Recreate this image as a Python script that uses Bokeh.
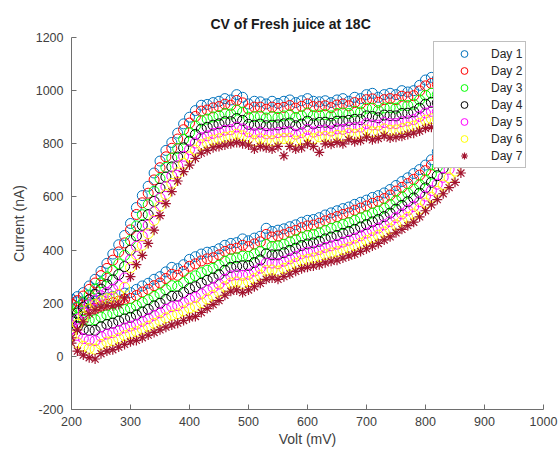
from bokeh.plotting import figure
from bokeh.models import Range1d, FixedTicker, Legend, LegendItem, Title
from bokeh.embed import file_html
from bokeh.resources import INLINE

# Forward scan (lower branch) potentials, mV
v_fwd = [200, 210, 220, 230, 240, 250, 260, 270, 280, 290, 300, 310, 320, 330, 340,
         350, 360, 370, 380, 390, 400, 410, 420, 430, 440, 450, 460, 470, 480, 490,
         500, 510, 520, 530, 540, 550, 560, 570, 580, 590, 600, 610, 620, 630, 640,
         650, 660, 670, 680, 690, 700, 710, 720, 730, 740, 750, 760, 770, 780, 790,
         800, 810, 820, 830, 840, 850, 860, 870, 880, 890]
# Reverse scan (upper branch) potentials, mV
v_rev = [880, 870, 860, 850, 840, 830, 820, 810, 800, 790, 780, 770, 760, 750, 740,
         730, 720, 710, 700, 690, 680, 670, 660, 650, 640, 630, 620, 610, 600, 590,
         580, 570, 560, 550, 540, 530, 520, 510, 500, 490, 480, 470, 460, 450, 440,
         430, 420, 410, 400, 390, 380, 370, 360, 350, 340, 330, 320, 310, 300, 290,
         280, 270, 260, 250, 240, 230, 220, 210, 200]

# Currents (nA), forward scan
day1_fwd = [215, 205, 198, 202, 207, 213, 220, 226, 232, 238, 240, 252, 265, 275, 290,
            300, 318, 335, 330, 345, 365, 375, 385, 392, 395, 405, 418, 425, 428, 442,
            435, 445, 452, 482, 470, 475, 480, 488, 495, 505, 512, 515, 522, 532, 540,
            548, 556, 562, 572, 580, 588, 598, 605, 615, 628, 643, 658, 672, 688, 703,
            720, 740, 770, 805, 850, 900, 960, 1030, 1100, 1155]
day2_fwd = [195, 183, 175, 177, 181, 189, 196, 202, 208, 215, 218, 229, 242, 252, 266,
            276, 293, 309, 305, 320, 339, 348, 359, 367, 371, 382, 395, 403, 407, 418,
            413, 423, 431, 459, 449, 453, 458, 467, 474, 484, 491, 494, 501, 510, 518,
            526, 534, 540, 550, 558, 566, 576, 583, 594, 607, 622, 636, 650, 666, 682,
            699, 720, 748, 782, 824, 871, 928, 995, 1064, 1120]
day3_fwd = [162, 146, 136, 136, 138, 148, 156, 162, 169, 176, 181, 191, 203, 213, 226,
            236, 251, 266, 264, 278, 295, 303, 315, 324, 331, 343, 358, 367, 371, 377,
            376, 386, 395, 421, 414, 416, 422, 431, 439, 449, 455, 459, 465, 474, 482,
            488, 496, 503, 512, 521, 529, 539, 547, 558, 571, 586, 600, 614, 629, 646,
            665, 686, 712, 743, 781, 822, 874, 937, 1004, 1061]
day4_fwd = [132, 112, 101, 98, 98, 111, 120, 125, 133, 141, 147, 156, 167, 177, 190,
            200, 214, 226, 227, 240, 255, 262, 275, 286, 295, 307, 324, 335, 339, 341,
            342, 353, 363, 386, 382, 382, 390, 399, 407, 417, 423, 427, 433, 442, 449,
            455, 463, 470, 478, 487, 496, 506, 515, 526, 539, 554, 568, 582, 596, 614,
            634, 655, 680, 708, 742, 777, 825, 885, 950, 1007]
day5_fwd = [103, 79, 67, 61, 59, 75, 84, 89, 98, 107, 114, 121, 132, 142, 154,
            164, 177, 187, 191, 202, 215, 222, 235, 248, 259, 272, 290, 303, 307, 305,
            309, 321, 332, 351, 351, 349, 358, 367, 376, 386, 392, 396, 402, 410, 416,
            422, 430, 437, 445, 454, 464, 474, 483, 495, 507, 522, 536, 550, 564, 582,
            603, 624, 648, 674, 704, 733, 776, 833, 896, 954]
day6_fwd = [78, 51, 38, 30, 27, 45, 54, 59, 68, 78, 86, 93, 103, 113, 124,
            134, 145, 155, 160, 171, 182, 188, 202, 216, 229, 243, 262, 276, 280, 274,
            281, 293, 305, 323, 325, 321, 331, 340, 350, 360, 365, 370, 375, 383, 389,
            394, 402, 409, 417, 426, 436, 446, 456, 468, 480, 495, 509, 523, 536, 555,
            577, 599, 621, 645, 672, 697, 736, 789, 851, 910]
day7_fwd = [50, 20, 5, -5, -10, 10, 20, 25, 35, 45, 55, 60, 70, 80, 90,
            100, 110, 118, 125, 135, 145, 150, 165, 180, 195, 210, 230, 245, 250, 240,
            250, 262, 275, 290, 295, 290, 300, 310, 320, 330, 335, 340, 345, 352, 358,
            362, 370, 378, 385, 395, 405, 415, 425, 438, 450, 465, 478, 492, 505, 525,
            548, 570, 590, 612, 635, 655, 690, 740, 800, 860]

# Currents (nA), reverse scan
day1_rev = [1120, 1095, 1080, 1070, 1060, 1055, 1045, 1050, 1040, 1020, 1000, 995, 1000, 985, 990,
            985, 975, 990, 985, 970, 975, 960, 970, 965, 955, 962, 958, 960, 970, 962,
            955, 965, 960, 952, 960, 950, 958, 960, 950, 975, 985, 965, 970, 960, 955,
            948, 945, 925, 900, 875, 840, 805, 775, 735, 690, 640, 605, 560, 500, 455,
            420, 385, 350, 320, 290, 265, 240, 225, 215]
day2_rev = [1094, 1070, 1056, 1046, 1037, 1032, 1023, 1027, 1018, 999, 981, 976, 979, 966, 970,
            966, 956, 969, 966, 951, 955, 943, 950, 946, 936, 943, 940, 940, 950, 941,
            934, 944, 937, 933, 938, 930, 938, 938, 931, 954, 963, 945, 949, 940, 935,
            927, 923, 903, 878, 853, 818, 783, 751, 710, 664, 614, 578, 534, 476, 427,
            393, 362, 331, 304, 276, 252, 227, 210, 198]
day3_rev = [1050, 1028, 1015, 1007, 999, 994, 986, 990, 982, 965, 949, 944, 945, 934, 936,
            935, 925, 934, 934, 919, 922, 914, 916, 914, 905, 910, 908, 906, 916, 905,
            899, 909, 905, 900, 902, 897, 904, 902, 900, 919, 927, 912, 914, 906, 901,
            893, 887, 867, 842, 817, 782, 746, 711, 669, 621, 571, 533, 491, 436, 380,
            348, 323, 299, 277, 253, 231, 205, 185, 169]
day4_rev = [1010, 990, 979, 971, 964, 960, 954, 956, 949, 934, 920, 915, 914, 905, 906,
            908, 898, 903, 905, 891, 892, 888, 885, 885, 877, 881, 880, 875, 885, 874,
            868, 878, 875, 871, 870, 868, 874, 870, 873, 888, 895, 883, 883, 875, 870,
            862, 855, 835, 810, 785, 750, 713, 675, 633, 583, 533, 493, 453, 400, 338,
            308, 288, 270, 253, 233, 213, 185, 163, 143]
day5_rev = [970, 952, 943, 935, 929, 926, 921, 922, 916, 903, 891, 886, 883, 876, 876,
            880, 870, 871, 876, 863, 861, 861, 854, 856, 848, 852, 850, 844, 854, 842,
            836, 846, 845, 842, 838, 838, 844, 838, 845, 856, 863, 853, 851, 844, 839,
            830, 823, 803, 778, 753, 718, 679, 639, 596, 544, 494, 452, 414, 364, 295,
            267, 252, 241, 228, 212, 194, 165, 140, 116]
day6_rev = [937, 921, 912, 906, 901, 897, 893, 894, 889, 877, 867, 862, 857, 852, 851,
            856, 846, 845, 852, 839, 836, 840, 829, 832, 825, 828, 826, 819, 829, 815,
            810, 820, 820, 818, 811, 813, 819, 811, 821, 830, 836, 828, 825, 819, 814,
            804, 796, 776, 751, 726, 691, 651, 609, 565, 512, 462, 418, 382, 334, 260,
            233, 223, 217, 208, 195, 178, 149, 121, 95]
day7_rev = [900, 885, 878, 872, 868, 865, 862, 862, 858, 848, 840, 835, 828, 825, 822,
            830, 820, 815, 825, 812, 808, 815, 800, 805, 798, 800, 768, 790, 800, 785,
            780, 790, 755, 790, 780, 785, 790, 780, 795, 800, 805, 800, 795, 790, 785,
            775, 765, 745, 720, 695, 660, 620, 575, 530, 475, 425, 380, 345, 300, 220,
            195, 190, 190, 185, 175, 160, 130, 100, 70]

labels = ["Day 1", "Day 2", "Day 3", "Day 4", "Day 5", "Day 6", "Day 7"]
colors = ["#0072BD", "#FF0000", "#00FF00", "#000000", "#FF00FF", "#FFFF00", "#A2142F"]
markers = ["circle", "circle", "circle", "circle", "circle", "circle", "asterisk"]
fwd = [day1_fwd, day2_fwd, day3_fwd, day4_fwd, day5_fwd, day6_fwd, day7_fwd]
rev = [day1_rev, day2_rev, day3_rev, day4_rev, day5_rev, day6_rev, day7_rev]

x_ticks = [200, 300, 400, 500, 600, 700, 800, 900, 1000]
y_ticks = [-200, 0, 200, 400, 600, 800, 1000, 1200]

FONT = "Liberation Sans"
TXT = "#404040"
AX = "#6e6e6e"

title = Title(text="CV of Fresh juice at 18C", align="left", offset=139, standoff=12,
              text_font=FONT, text_font_size="14px", text_font_style="bold",
              text_color="#1a1a1a")

p = figure(width=558, height=450, output_backend="svg", toolbar_location=None,
           x_range=Range1d(200, 1000), y_range=Range1d(-200, 1200), title=title,
           min_border_left=71, min_border_right=15, min_border_top=37, min_border_bottom=41)
p.outline_line_color = None
p.background_fill_color = "white"
p.border_fill_color = "white"
p.xgrid.visible = False
p.ygrid.visible = False

for ax, ticks in ((p.xaxis[0], x_ticks), (p.yaxis[0], y_ticks)):
    ax.ticker = FixedTicker(ticks=ticks)
    ax.major_tick_in = 5
    ax.major_tick_out = 0
    ax.minor_tick_line_color = None
    ax.axis_line_color = AX
    ax.major_tick_line_color = AX
    ax.major_label_text_font = FONT
    ax.major_label_text_font_size = "12.5px"
    ax.major_label_text_color = TXT
    ax.axis_label_text_font = FONT
    ax.axis_label_text_font_size = "14px"
    ax.axis_label_text_font_style = "normal"
    ax.axis_label_text_color = TXT

p.yaxis.major_label_overrides = {-200: "-200"}
p.xaxis.major_label_standoff = 7
p.yaxis.major_label_standoff = 8
p.yaxis.axis_label = "Current (nA)"
p.yaxis.axis_label_standoff = 6
p.xaxis.axis_label = "Volt (mV)"
p.xaxis.axis_label_standoff = 2

items = []
for i in range(7):
    xs = v_fwd + v_rev
    ys = fwd[i] + rev[i]
    r = p.scatter(xs, ys, marker=markers[i], size=10, fill_color=None,
                  line_color=colors[i], line_width=1.2 if markers[i] == "asterisk" else 1)
    items.append(LegendItem(label=labels[i], renderers=[r]))

legend = Legend(items=items, location=(362, 241), padding=3, spacing=0,
                label_height=17, glyph_height=17, glyph_width=54, label_standoff=0,
                label_text_font=FONT, label_text_font_size="12px", label_text_color="#262626",
                border_line_color="#7f7f7f", border_line_width=1,
                background_fill_color="white", background_fill_alpha=1.0, margin=0)
p.add_layout(legend, "center")

open("out.html", "w").write(file_html(p, INLINE))
